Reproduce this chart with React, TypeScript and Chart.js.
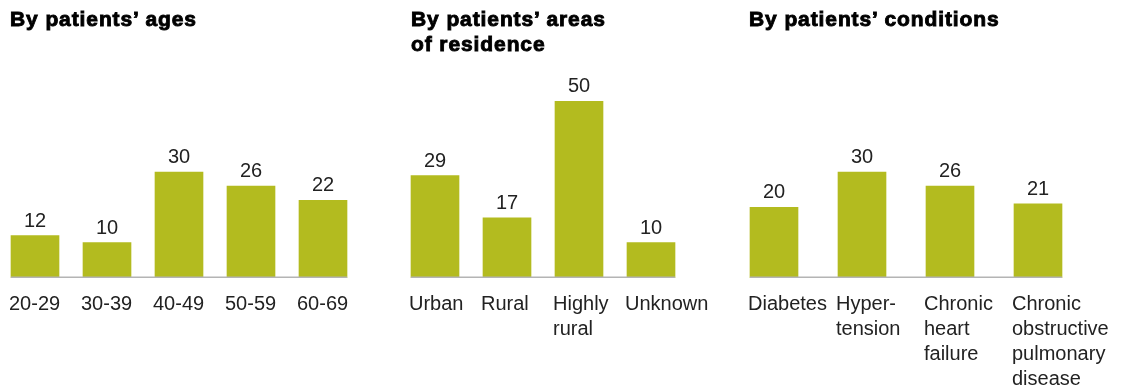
import React, { useEffect, useRef } from "react";
import { Chart, registerables } from "chart.js";

Chart.register(...registerables);

const ageLabels: string[][] = [["20-29"], ["30-39"], ["40-49"], ["50-59"], ["60-69"]];
const ageValues: number[] = [12, 10, 30, 26, 22];

const residenceLabels: string[][] = [["Urban"], ["Rural"], ["Highly", "rural"], ["Unknown"]];
const residenceValues: number[] = [29, 17, 50, 10];

const conditionLabels: string[][] = [
  ["Diabetes"],
  ["Hyper-", "tension"],
  ["Chronic", "heart", "failure"],
  ["Chronic", "obstructive", "pulmonary", "disease"],
];
const conditionValues: number[] = [20, 30, 26, 21];

const titles: string[][] = [
  ["By patients’ ages"],
  ["By patients’ areas", "of residence"],
  ["By patients’ conditions"],
];

const BAR_COLOR = "#b3bb1f";
const TEXT_COLOR = "#222222";
const FONT = "'Liberation Sans', Arial, Helvetica, sans-serif";

const valueLabelPlugin = {
  id: "valueLabels",
  afterDatasetsDraw(chart: any) {
    const ctx = chart.ctx;
    const meta = chart.getDatasetMeta(0);
    const data = chart.data.datasets[0].data as number[];
    const yZero = chart.scales.y.getPixelForValue(0);
    ctx.save();
    const first = meta.data[0];
    const last = meta.data[meta.data.length - 1];
    ctx.strokeStyle = "#b4b4b4";
    ctx.lineWidth = 1.5;
    ctx.beginPath();
    ctx.moveTo(first.x - first.width / 2, yZero - 0.75);
    ctx.lineTo(last.x + last.width / 2, yZero - 0.75);
    ctx.stroke();
    ctx.font = `20px ${FONT}`;
    ctx.fillStyle = TEXT_COLOR;
    ctx.textAlign = "center";
    ctx.textBaseline = "alphabetic";
    meta.data.forEach((bar: any, i: number) => {
      ctx.fillText(String(data[i]), bar.x, bar.y - 9);
    });
    ctx.restore();
  },
};

type PanelProps = {
  labels: string[][];
  values: number[];
  title: string[];
  left: number;
  width: number;
  padLeft: number;
  padRight: number;
  titleLeft: number;
};

function Panel({ labels, values, title, left, width, padLeft, padRight, titleLeft }: PanelProps) {
  const ref = useRef<HTMLCanvasElement | null>(null);
  useEffect(() => {
    if (!ref.current) return;
    const chart = new Chart(ref.current, {
      type: "bar",
      data: {
        labels: labels,
        datasets: [
          {
            data: values,
            backgroundColor: BAR_COLOR,
            borderWidth: 0,
            barThickness: 48,
          },
        ],
      },
      options: {
        animation: false,
        responsive: false,
        maintainAspectRatio: false,
        layout: { padding: { top: 66, left: padLeft, right: padRight, bottom: 0 } },
        plugins: {
          legend: { display: false },
          tooltip: { enabled: false },
          title: { display: false },
        },
        scales: {
          y: { display: false, min: 0, max: 60 },
          x: {
            border: { display: false },
            grid: { display: false },
            ticks: {
              autoSkip: false,
              maxRotation: 0,
              minRotation: 0,
              align: "start",
              labelOffset: -26,
              padding: 6,
              color: TEXT_COLOR,
              font: { family: FONT, size: 20, lineHeight: "25px" as any },
            },
            afterFit(scale: any) {
              scale.height = 112;
              scale.paddingLeft = 0;
              scale.paddingRight = 0;
            },
          },
        },
      },
      plugins: [valueLabelPlugin],
    });
    return () => chart.destroy();
  }, []);
  return (
    <div style={{ position: "absolute", left, top: 0, width, height: 390 }}>
      <canvas ref={ref} width={width} height={390} style={{ display: "block", width, height: 390 }} />
      <div
        style={{
          position: "absolute",
          left: titleLeft - left,
          top: 6,
          fontFamily: FONT,
          fontWeight: 700,
          fontSize: 21,
          lineHeight: "25px",
          color: "#000",
          letterSpacing: "0.9px",
          WebkitTextStroke: "0.9px #000",
          whiteSpace: "nowrap",
        }}
      >
        {title.map((t, i) => (
          <div key={i}>{t}</div>
        ))}
      </div>
    </div>
  );
}

export default function App() {
  return (
    <div style={{ position: "absolute", left: 0, top: 0, width: 1123, height: 390, background: "#fff", overflow: "hidden" }}>
      <Panel labels={ageLabels} values={ageValues} title={titles[0]} left={-1} width={400} padLeft={0} padRight={40} titleLeft={10} />
      <Panel labels={residenceLabels} values={residenceValues} title={titles[1]} left={395} width={330} padLeft={4} padRight={38} titleLeft={411} />
      <Panel labels={conditionLabels} values={conditionValues} title={titles[2]} left={726} width={397} padLeft={4} padRight={41} titleLeft={749} />
    </div>
  );
}
